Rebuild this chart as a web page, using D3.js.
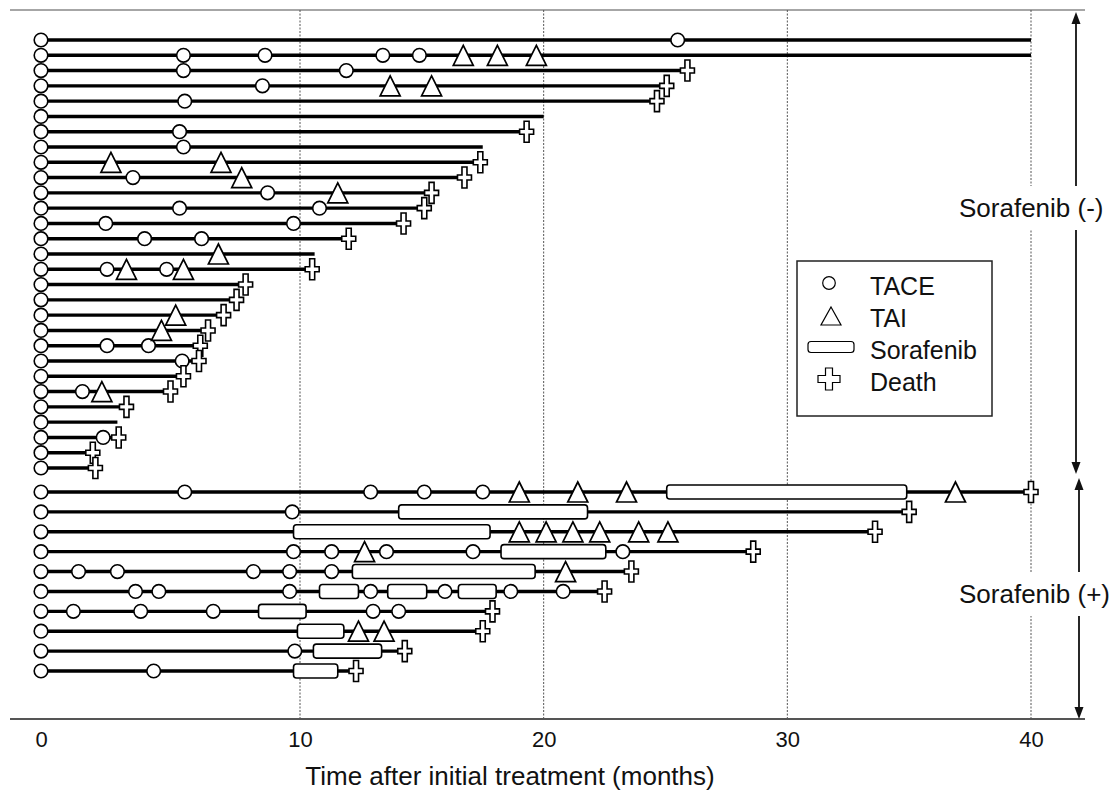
<!DOCTYPE html>
<html>
<head>
<meta charset="utf-8">
<script src="https://cdn.jsdelivr.net/npm/d3@7/dist/d3.min.js"></script>
<style>
  html, body { margin: 0; padding: 0; background: #fff; }
  svg { display: block; font-family: "Liberation Sans", Arial, sans-serif; }
</style>
</head>
<body>
<svg id="chart" width="1114" height="792"></svg>
<script>
// ---------------- DATA ----------------
const xTicks = [0, 10, 20, 30, 40];
const xTickLabels = ["0", "10", "20", "30", "40"];
const gridTicks = [10, 20, 30, 40];

// Sorafenib (-) group
const noSoraIds = ["N1","N2","N3","N4","N5","N6","N7","N8","N9","N10","N11","N12","N13","N14","N15",
                   "N16","N17","N18","N19","N20","N21","N22","N23","N24","N25","N26","N27","N28","N29"];
const noSoraEnd = [40, 40, 25.9, 25.05, 24.65, 20, 19.3, 17.5, 17.4, 16.75, 15.4, 15.1, 14.25, 12.0, 10.6,
                   10.5, 7.9, 7.55, 7.05, 6.45, 6.15, 6.1, 5.5, 5.0, 3.3, 2.95, 3.0, 2.0, 2.1];
const noSoraDeath = [false, false, true, true, true, false, true, false, true, true, true, true, true, true, false,
                     true, true, true, true, true, true, true, true, true, true, false, true, true, true];
const noSoraTACE = [
  [0, 25.5], [0, 5.5, 8.65, 13.4, 14.9], [0, 5.5, 11.9], [0, 8.55], [0, 5.55],
  [0], [0, 5.35], [0, 5.5], [0], [0, 3.55],
  [0, 8.75], [0, 5.35, 10.8], [0, 2.5, 9.75], [0, 4.0, 6.2], [0],
  [0, 2.55, 4.85], [0], [0], [0], [0],
  [0, 2.55, 4.15], [0, 5.45], [0], [0, 1.6], [0],
  [0], [0, 2.4], [0], [0]
];
const noSoraTAI = [
  [], [16.7, 18.1, 19.7], [], [13.7, 15.4], [],
  [], [], [], [2.7, 6.95], [7.75],
  [11.55], [], [], [], [6.85],
  [3.3, 5.5], [], [], [5.2], [4.65],
  [], [], [], [2.35], [],
  [], [], [], []
];

// Sorafenib (+) group
const soraIds = ["S1","S2","S3","S4","S5","S6","S7","S8","S9","S10"];
const soraEnd = [40, 35, 33.6, 28.6, 23.6, 22.5, 17.9, 17.5, 14.3, 12.3];
const soraDeath = [true, true, true, true, true, true, true, true, true, true];
const soraTACE = [
  [0, 5.55, 12.9, 15.1, 17.5], [0, 9.7], [0], [0, 9.75, 11.3, 13.55, 17.1, 23.25],
  [0, 1.45, 2.95, 8.2, 9.6, 11.3], [0, 3.65, 4.55, 9.6, 12.9, 15.95, 18.65, 20.8],
  [0, 1.25, 3.85, 6.65, 13.0, 14.05], [0], [0, 9.8], [0, 4.35]
];
const soraTAI = [
  [19.0, 21.4, 23.4, 36.9], [], [19.0, 20.1, 21.2, 22.3, 23.9, 25.1], [12.65],
  [20.9], [], [], [12.4, 13.45], [], []
];
const soraPeriods = [
  [[25.05, 34.9]], [[14.05, 21.8]], [[9.75, 17.8]], [[18.25, 22.55]],
  [[12.15, 19.65]], [[10.8, 12.4], [13.6, 15.2], [16.5, 18.05]],
  [[8.4, 10.25]], [[9.9, 11.8]], [[10.55, 13.35]], [[9.75, 11.55]]
];

const legendLabels = ["TACE", "TAI", "Sorafenib", "Death"];
const groupLabels = ["Sorafenib (-)", "Sorafenib (+)"];
const axisTitle = "Time after initial treatment (months)";

// ---------------- SCALES ----------------
const svg = d3.select("#chart");
const x = d3.scaleLinear().domain([0, 10, 40]).range([41, 300, 1031]);
const yTop = d3.scalePoint().domain(noSoraIds).range([40, 468]);
const yBot = d3.scalePoint().domain(soraIds).range([492, 671]);

const plotTop = 10, plotBottom = 719;

// build row tables from arrays
const rows = [];
noSoraIds.forEach((id, i) => rows.push({
  y: yTop(id), end: noSoraEnd[i], death: noSoraDeath[i],
  tace: noSoraTACE[i], tai: noSoraTAI[i], sora: []
}));
soraIds.forEach((id, i) => rows.push({
  y: yBot(id), end: soraEnd[i], death: soraDeath[i],
  tace: soraTACE[i], tai: soraTAI[i], sora: soraPeriods[i]
}));

// ---------------- FRAME ----------------
svg.append("line").attr("x1", 10).attr("x2", 1085).attr("y1", plotTop).attr("y2", plotTop)
  .attr("stroke", "#888").attr("stroke-width", 1.5);

svg.append("g").selectAll("line").data(gridTicks).join("line")
  .attr("x1", d => x(d)).attr("x2", d => x(d))
  .attr("y1", plotTop).attr("y2", plotBottom)
  .attr("stroke", "#555").attr("stroke-width", 1).attr("stroke-dasharray", "2,1.5");

svg.append("line").attr("x1", 10).attr("x2", 1085).attr("y1", plotBottom).attr("y2", plotBottom)
  .attr("stroke", "#555").attr("stroke-width", 2);

// axis tick labels via d3 axis
const axis = d3.axisBottom(x).tickValues(xTicks).tickFormat((d, i) => xTickLabels[i]).tickSize(0).tickPadding(0);
const axG = svg.append("g").attr("transform", `translate(0, 731)`).call(axis);
axG.select(".domain").remove();
axG.selectAll("text").attr("font-size", 22).attr("fill", "#111")
  .attr("font-family", "Liberation Sans, Arial, sans-serif").attr("dy", "0.71em");

svg.append("text").attr("x", 510).attr("y", 785).attr("text-anchor", "middle")
  .attr("font-size", 26).attr("fill", "#111").text(axisTitle);

// ---------------- ARROWS ----------------
function arrowHead(xc, yc, dir) {
  const h = 12, w = 4.5;
  return `M${xc},${yc} L${xc - w},${yc - dir * h} L${xc + w},${yc - dir * h} Z`;
}
const arrows = [
  { x: 1076, y1: 12, y2: 474 },
  { x: 1079, y1: 478, y2: 719 }
];
arrows.forEach(a => {
  svg.append("line").attr("x1", a.x).attr("x2", a.x).attr("y1", a.y1 + 6).attr("y2", a.y2 - 6)
    .attr("stroke", "#111").attr("stroke-width", 1.8);
  svg.append("path").attr("d", arrowHead(a.x, a.y1, -1)).attr("fill", "#111");
  svg.append("path").attr("d", arrowHead(a.x, a.y2, 1)).attr("fill", "#111");
});

// group labels with white background
const groupLabelPos = [{ x: 959, y: 217 }, { x: 959, y: 603 }];
groupLabels.forEach((t, i) => {
  const p = groupLabelPos[i];
  svg.append("rect").attr("x", p.x - 4).attr("y", p.y - 31).attr("width", 150).attr("height", 44)
    .attr("fill", "#fff");
  svg.append("text").attr("x", p.x).attr("y", p.y).attr("font-size", 26).attr("fill", "#111").text(t);
});

// ---------------- MARKERS ----------------
const crossPath = (w, h, t) => {
  const a = t / 2, b = w / 2, c = h / 2;
  return `M${-a},${-c} L${a},${-c} L${a},${-a} L${b},${-a} L${b},${a} L${a},${a} L${a},${c} L${-a},${c} L${-a},${a} L${-b},${a} L${-b},${-a} L${-a},${-a} Z`;
};
const triPath = (w, h) => `M0,${-h * 0.5} L${w / 2},${h * 0.5} L${-w / 2},${h * 0.5} Z`;

const g = svg.append("g");

// row lines
g.selectAll("line.row").data(rows).join("line").attr("class", "row")
  .attr("x1", x(0)).attr("x2", d => x(d.end))
  .attr("y1", d => d.y).attr("y2", d => d.y)
  .attr("stroke", "#000").attr("stroke-width", 3.4);

// sorafenib boxes
const soraData = rows.flatMap(r => r.sora.map(s => ({ y: r.y, s: s[0], e: s[1] })));
g.selectAll("rect.sora").data(soraData).join("rect").attr("class", "sora")
  .attr("x", d => x(d.s)).attr("width", d => x(d.e) - x(d.s))
  .attr("y", d => d.y - 7).attr("height", 14).attr("rx", 3)
  .attr("fill", "#fff").attr("stroke", "#000").attr("stroke-width", 1.6);

// TACE circles
const taceData = rows.flatMap(r => r.tace.map(t => ({ y: r.y, t })));
g.selectAll("circle.tace").data(taceData).join("circle").attr("class", "tace")
  .attr("cx", d => x(d.t)).attr("cy", d => d.y).attr("r", 6.8)
  .attr("fill", "#fff").attr("stroke", "#000").attr("stroke-width", 1.6);

// TAI triangles
const taiData = rows.flatMap(r => r.tai.map(t => ({ y: r.y, t })));
g.selectAll("path.tai").data(taiData).join("path").attr("class", "tai")
  .attr("d", triPath(20, 20))
  .attr("transform", d => `translate(${x(d.t)},${d.y})`)
  .attr("fill", "#fff").attr("stroke", "#000").attr("stroke-width", 1.7).attr("stroke-linejoin", "miter");

// death crosses
const deathData = rows.filter(r => r.death);
g.selectAll("path.death").data(deathData).join("path").attr("class", "death")
  .attr("d", crossPath(14, 21, 5))
  .attr("transform", d => `translate(${x(d.end)},${d.y})`)
  .attr("fill", "#fff").attr("stroke", "#000").attr("stroke-width", 1.6);

// ---------------- LEGEND ----------------
const lg = svg.append("g");
lg.append("rect").attr("x", 797).attr("y", 261).attr("width", 195).attr("height", 155)
  .attr("fill", "#fff").attr("stroke", "#222").attr("stroke-width", 1.5);
const legY = d3.scalePoint().domain(legendLabels).range([283, 379]);
lg.append("circle").attr("cx", 829).attr("cy", legY("TACE")).attr("r", 6.3)
  .attr("fill", "#fff").attr("stroke", "#000").attr("stroke-width", 1.2);
lg.append("path").attr("d", triPath(20, 18)).attr("transform", `translate(831,${legY("TAI") + 1})`)
  .attr("fill", "#fff").attr("stroke", "#000").attr("stroke-width", 1.2);
lg.append("rect").attr("x", 808).attr("y", legY("Sorafenib") - 5.5).attr("width", 46).attr("height", 11)
  .attr("rx", 3).attr("fill", "#fff").attr("stroke", "#000").attr("stroke-width", 1.2);
lg.append("path").attr("d", crossPath(22, 22, 7)).attr("transform", `translate(829,${legY("Death")})`)
  .attr("fill", "#fff").attr("stroke", "#000").attr("stroke-width", 1.2);
lg.selectAll("text").data(legendLabels).join("text")
  .attr("x", 870).attr("y", d => legY(d) + 12).attr("font-size", 25).attr("fill", "#111").text(d => d);
</script>
</body>
</html>
